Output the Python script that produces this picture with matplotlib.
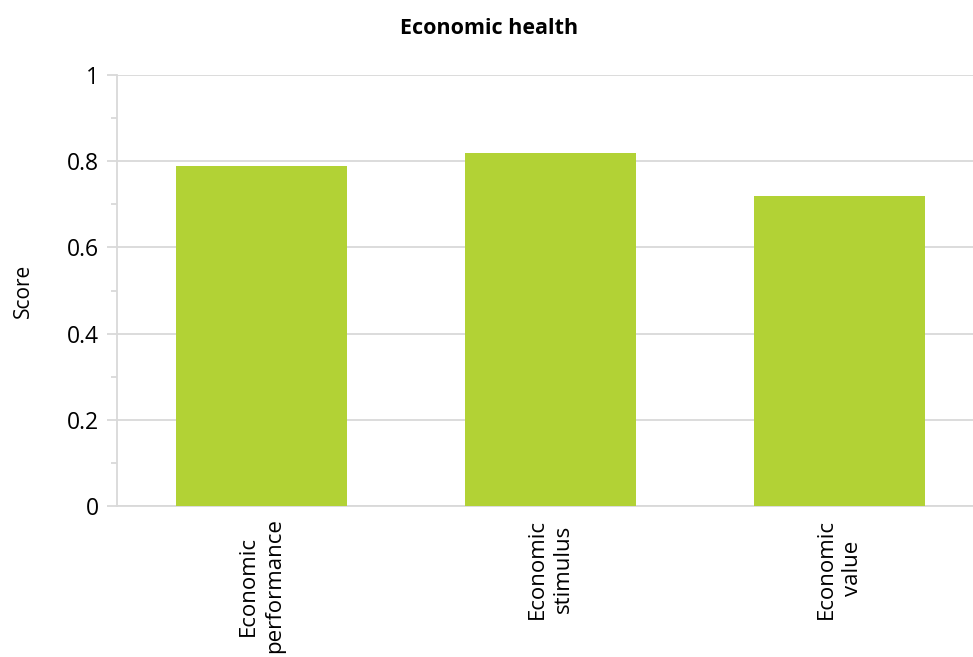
import matplotlib.pyplot as plt
from matplotlib.ticker import MultipleLocator

plt.rcParams['font.family'] = ['Open Sans', 'DejaVu Sans']

categories = ["Economic\nperformance", "Economic\nstimulus", "Economic\nvalue"]
scores = [0.79, 0.82, 0.72]

fig = plt.figure(figsize=(9.73, 6.57), dpi=100)
ax = fig.add_axes([0.1203, 0.2298, 0.891, 0.656])

x = range(len(categories))
ax.bar(x, scores, width=0.59, color="#b2d235", zorder=3)

ax.set_xlim(-0.5, 2.5)
ax.set_ylim(0, 1)
ax.yaxis.set_major_locator(MultipleLocator(0.2))
ax.yaxis.set_minor_locator(MultipleLocator(0.1))
ax.set_yticks([0, 0.2, 0.4, 0.6, 0.8, 1.0])
ax.set_yticklabels(["0", "0.2", "0.4", "0.6", "0.8", "1"])
ax.grid(axis="y", which="major", color="#d9d9d9", linewidth=1.3, zorder=0)

ax.set_xticks(list(x))
ax.set_xticklabels(categories, rotation=90, fontsize=16, va="top",
                   ha="center", multialignment="center", linespacing=1.35)
ax.tick_params(axis="x", length=0, pad=9)
ax.tick_params(axis="y", which="major", length=7, width=1.3, color="#d9d9d9",
               labelsize=16.5, pad=6)
ax.tick_params(axis="y", which="minor", length=4.5, width=1.3, color="#d9d9d9")

for s in ["top", "right"]:
    ax.spines[s].set_visible(False)
for s in ["left", "bottom"]:
    ax.spines[s].set_color("#d9d9d9")
    ax.spines[s].set_linewidth(1.3)

ax.set_ylabel("Score", fontsize=15, labelpad=24)
fig.text(0.503, 0.956, "Economic health", ha="center", va="center",
         fontsize=15.5, fontweight="bold")

plt.savefig("out.png", dpi=100)
